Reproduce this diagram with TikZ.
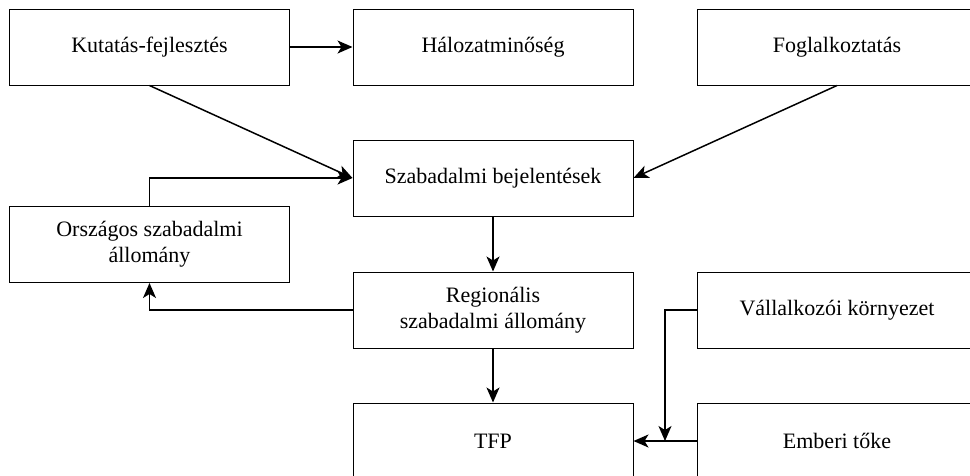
\documentclass[tikz,border=0pt]{standalone}
\usepackage{fontspec}
\setmainfont{Liberation Serif}
\usetikzlibrary{arrows.meta}
\tikzset{
  box/.style={draw=black, line width=1pt, rectangle, minimum width=280pt, minimum height=76pt,
    inner sep=0pt, align=center, font=\fontsize{22}{26}\selectfont},
  conn/.style={line width=1.5pt, -{Stealth[length=15pt, width=13pt, inset=4pt]}},
  plain/.style={line width=1.5pt}
}
\begin{document}
\begin{tikzpicture}[x=1pt, y=-1pt]
\useasboundingbox (0,0) rectangle (970,475);
\clip (0,0) rectangle (970,475);
\node[box] (kf) at (149.5,47) {Kutatás-fejlesztés};
\node[box] (hm) at (493,47) {Hálozatminőség};
\node[box] (fg) at (837,47) {Foglalkoztatás};
\node[box] (sb) at (493,178) {Szabadalmi bejelentések};
\node[box] (osz) at (149.5,244.5) {Országos szabadalmi\\állomány};
\node[box] (rsz) at (493,310) {Regionális\\szabadalmi állomány};
\node[box] (vk) at (837,310) {Vállalkozói környezet};
\node[box] (tfp) at (493,441) {TFP};
\node[box] (et) at (837,441) {Emberi tőke};
\coordinate (j) at (665,441);
\draw[conn] (kf.east) -- (hm.west);
\draw[conn] (kf.south) -- (sb.west);
\draw[conn] (fg.south) -- (sb.east);
\draw[conn] (osz.north) |- (sb.west);
\draw[conn] (sb.south) -- (rsz.north);
\draw[conn] (rsz.west) -| (osz.south);
\draw[conn] (rsz.south) -- (tfp.north);
\draw[conn] (vk.west) -| (j);
\draw[conn] (et.west) -- (tfp.east);
\end{tikzpicture}
\end{document}
